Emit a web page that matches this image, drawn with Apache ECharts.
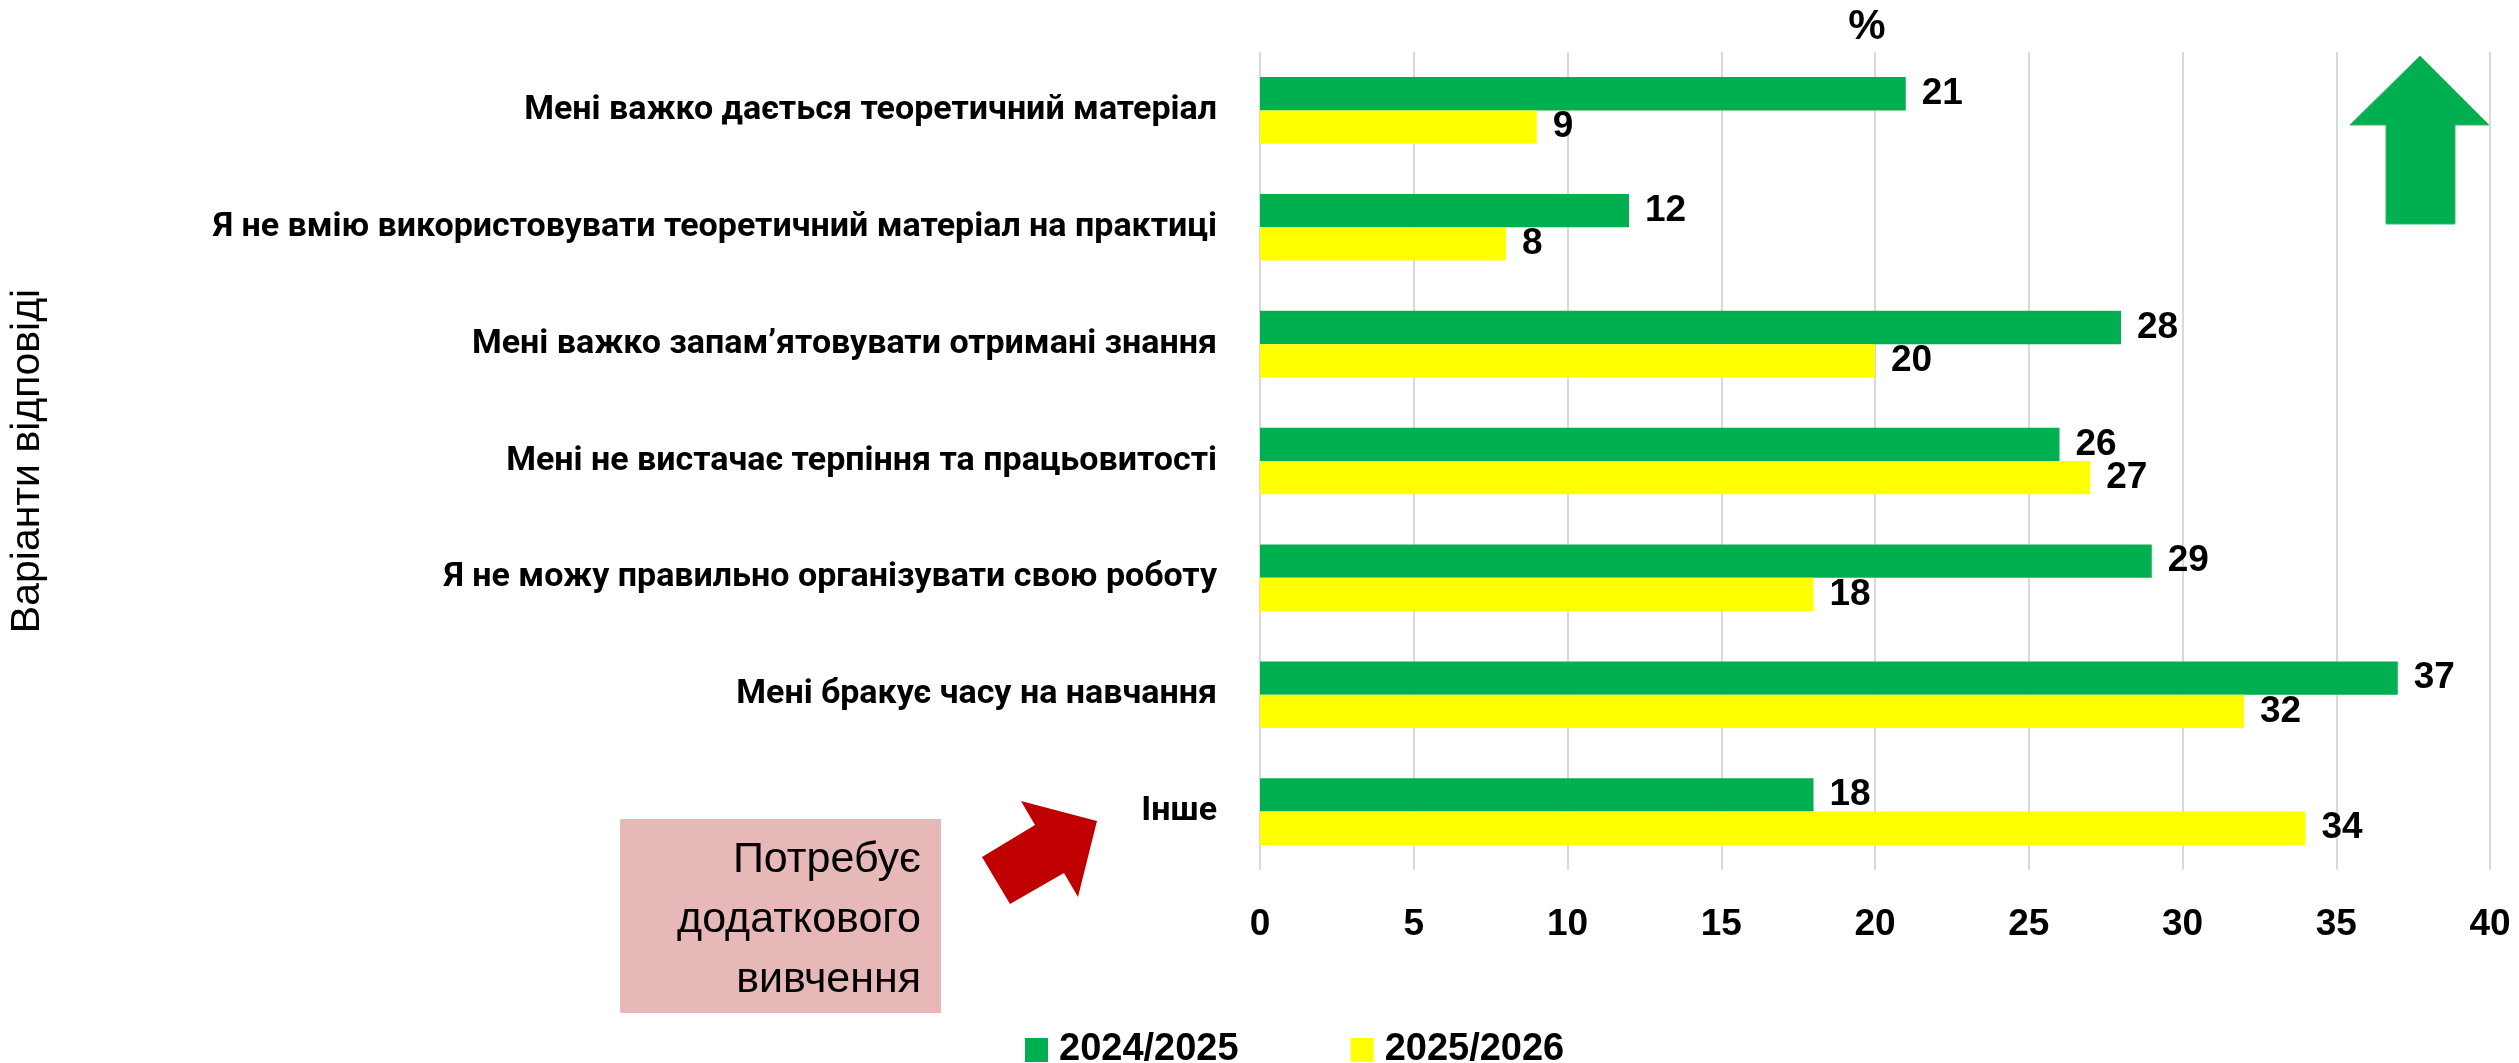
<!DOCTYPE html>
<html>
<head>
<meta charset="utf-8">
<script src="https://cdn.jsdelivr.net/npm/echarts@6/dist/echarts.min.js"></script>
<style>
  html, body { margin: 0; padding: 0; background: #fff; }
  #chart { width: 2519px; height: 1063px; }
</style>
</head>
<body>
<div id="chart"></div>
<script>
// дані діаграми
const categories = [
  'Мені важко дається теоретичний матеріал',
  'Я не вмію використовувати теоретичний матеріал на практиці',
  'Мені важко запам’ятовувати отримані знання',
  'Мені не вистачає терпіння та працьовитості',
  'Я не можу правильно організувати свою роботу',
  'Мені бракує часу на навчання',
  'Інше'
];
const seriesNames = ['2024/2025', '2025/2026'];
const values2024 = [21, 12, 28, 26, 29, 37, 18];
const values2025 = [9, 8, 20, 27, 18, 32, 34];
const xTicks = [0, 5, 10, 15, 20, 25, 30, 35, 40];

const FONT = '"Liberation Sans", Arial, sans-serif';
const CAT_FONT = 'Roboto, "Liberation Sans", sans-serif';
const GREEN = '#00B050';
const YELLOW = '#FFFF00';

const chart = echarts.init(document.getElementById('chart'));

const labelStyle = {
  show: true,
  position: 'right',
  distance: 16,
  color: '#000',
  fontFamily: FONT,
  fontWeight: 'bold',
  fontSize: 37
};

const option = {
  animation: false,
  backgroundColor: '#fff',
  grid: {
    left: 1260,
    right: 29,
    top: 52,
    bottom: 193,
    outerBoundsMode: 'none'
  },
  legend: {
    data: seriesNames,
    left: 1020,
    top: 1026,
    itemWidth: 23,
    itemHeight: 24,
    itemGap: 112,
    icon: 'rect',
    textStyle: {
      fontFamily: FONT,
      fontWeight: 'bold',
      fontSize: 38,
      color: '#000',
      padding: [0, 0, 0, 6]
    }
  },
  xAxis: {
    type: 'value',
    min: xTicks[0],
    max: xTicks[xTicks.length - 1],
    interval: 5,
    axisLine: { show: false },
    axisTick: { show: false },
    splitLine: { show: true, lineStyle: { color: '#D9D9D9', width: 2 } },
    axisLabel: {
      margin: 36,
      color: '#000',
      fontFamily: FONT,
      fontWeight: 'bold',
      fontSize: 37
    }
  },
  yAxis: {
    type: 'category',
    data: categories,
    inverse: true,
    name: 'Варіанти відповіді',
    nameLocation: 'middle',
    nameRotate: 90,
    nameGap: 1212,
    nameTextStyle: {
      fontFamily: FONT,
      fontSize: 41,
      color: '#000'
    },
    axisLine: { show: false },
    axisTick: { show: false },
    axisLabel: {
      margin: 43,
      color: '#000',
      fontFamily: CAT_FONT,
      fontWeight: 'bold',
      fontSize: 34
    }
  },
  series: [
    {
      name: seriesNames[0],
      type: 'bar',
      data: values2024,
      barGap: '0%',
      barCategoryGap: '43%',
      itemStyle: { color: GREEN },
      label: labelStyle
    },
    {
      name: seriesNames[1],
      type: 'bar',
      data: values2025,
      itemStyle: { color: YELLOW },
      label: labelStyle
    }
  ],
  graphic: [
    {
      type: 'text',
      x: 1867,
      y: 27,
      style: {
        text: '%',
        fill: '#000',
        font: 'bold 42px ' + FONT,
        textAlign: 'center',
        textVerticalAlign: 'middle'
      }
    },
    {
      // зелена стрілка вгору
      type: 'polygon',
      shape: {
        points: [[2420, 56], [2489, 125], [2455, 125], [2455, 224],
                 [2386, 224], [2386, 125], [2350, 125]]
      },
      style: { fill: GREEN, stroke: '#3CB96A', lineWidth: 1 }
    },
    {
      // червона стрілка
      type: 'polygon',
      shape: {
        points: [[1097, 821], [1078, 897], [1064, 873], [1010, 904],
                 [982, 857], [1035, 825], [1021, 801]]
      },
      style: { fill: '#C00000' }
    },
    {
      type: 'rect',
      shape: { x: 620, y: 819, width: 321, height: 194 },
      style: { fill: '#E6B8B7' }
    },
    {
      type: 'text',
      x: 921,
      y: 860,
      style: { text: 'Потребує', fill: '#000', font: '43px ' + FONT, textAlign: 'right', textVerticalAlign: 'middle' }
    },
    {
      type: 'text',
      x: 921,
      y: 920,
      style: { text: 'додаткового', fill: '#000', font: '43px ' + FONT, textAlign: 'right', textVerticalAlign: 'middle' }
    },
    {
      type: 'text',
      x: 921,
      y: 980,
      style: { text: 'вивчення', fill: '#000', font: '43px ' + FONT, textAlign: 'right', textVerticalAlign: 'middle' }
    }
  ]
};

chart.setOption(option);
</script>
</body>
</html>
